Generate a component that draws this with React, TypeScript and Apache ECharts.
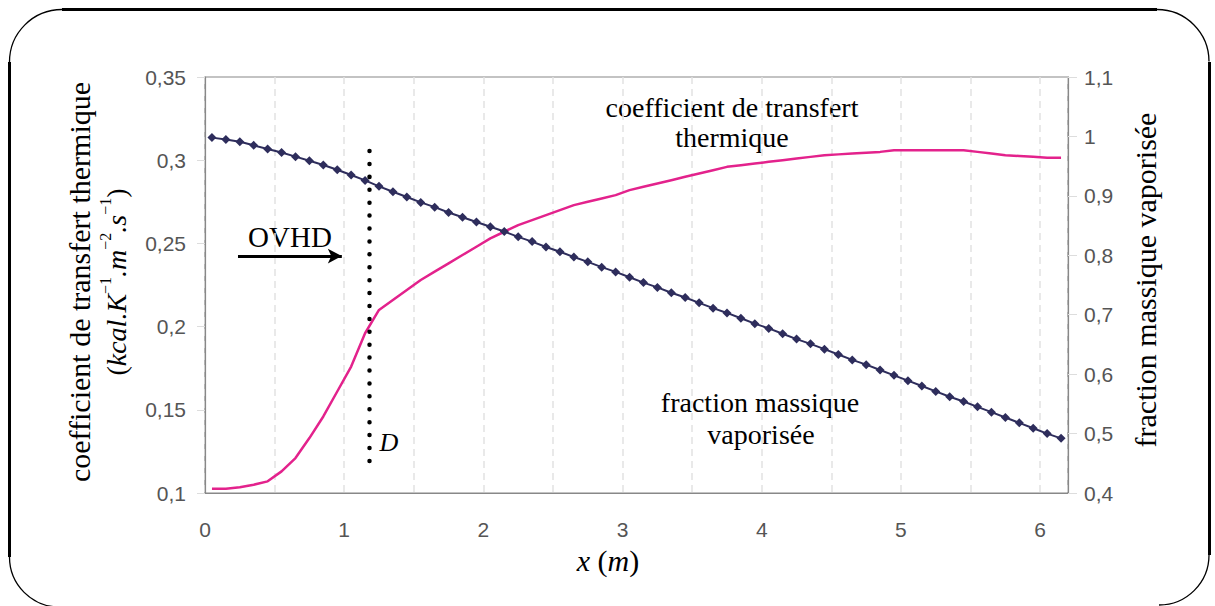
import React, { useEffect, useRef } from "react";
import * as echarts from "echarts";

// positions along the tube (m)
const xPositions = [
  0.05, 0.15, 0.25, 0.35, 0.45, 0.55, 0.65, 0.75, 0.85, 0.95,
  1.05, 1.15, 1.25, 1.35, 1.45, 1.55, 1.65, 1.75, 1.85, 1.95,
  2.05, 2.15, 2.25, 2.35, 2.45, 2.55, 2.65, 2.75, 2.85, 2.95,
  3.05, 3.15, 3.25, 3.35, 3.45, 3.55, 3.65, 3.75, 3.85, 3.95,
  4.05, 4.15, 4.25, 4.35, 4.45, 4.55, 4.65, 4.75, 4.85, 4.95,
  5.05, 5.15, 5.25, 5.35, 5.45, 5.55, 5.65, 5.75, 5.85, 5.95,
  6.05, 6.15,
];

// fraction massique vaporisée (right axis)
const fractionVaporisee = [
  0.998, 0.995, 0.991, 0.985, 0.979, 0.973, 0.966, 0.959, 0.952, 0.944,
  0.935, 0.926, 0.916, 0.907, 0.898, 0.889, 0.881, 0.872, 0.864, 0.856,
  0.848, 0.840, 0.831, 0.823, 0.814, 0.806, 0.797, 0.789, 0.780, 0.772,
  0.763, 0.754, 0.746, 0.737, 0.729, 0.720, 0.711, 0.703, 0.694, 0.685,
  0.677, 0.668, 0.659, 0.651, 0.642, 0.633, 0.624, 0.616, 0.607, 0.598,
  0.589, 0.580, 0.571, 0.562, 0.554, 0.545, 0.536, 0.527, 0.518, 0.509,
  0.500, 0.492,
];

// coefficient de transfert thermique (left axis)
const coefficientTransfert = [
  0.1025, 0.1025, 0.1035, 0.105, 0.107, 0.113, 0.121, 0.133, 0.146, 0.161,
  0.176, 0.196, 0.210, 0.216, 0.222, 0.228, 0.233, 0.238, 0.243, 0.248,
  0.253, 0.257, 0.261, 0.264, 0.267, 0.270, 0.273, 0.275, 0.277, 0.279,
  0.282, 0.284, 0.286, 0.288, 0.290, 0.292, 0.294, 0.296, 0.297, 0.298,
  0.299, 0.300, 0.301, 0.302, 0.303, 0.3035, 0.304, 0.3045, 0.305, 0.306,
  0.306, 0.306, 0.306, 0.306, 0.306, 0.305, 0.304, 0.303, 0.3025, 0.302,
  0.3015, 0.3015,
];

// annotation lines (data coordinates, left axis)
const dLineX = 1.18;
const dLineY = [0.3055, 0.1162];
const arrowX = [0.237, 0.983];
const arrowY = 0.2424;

const leftAxis = { min: 0.1, max: 0.35, interval: 0.05 };
const rightAxis = { min: 0.4, max: 1.1, interval: 0.1 };
const xAxisRange = { min: 0, max: 6.2, interval: 0.5 };

const SERIF = "'Liberation Serif', 'Times New Roman', serif";
const SANS = "'Liberation Sans', Arial, Helvetica, sans-serif";
const NAVY = "#2e2d5c";
const PINK = "#e3228c";

// page frame: thick straight edges (filled) and thin rounded corners (stroked)
const FRAME_BARS = "M62 8 L1157 8 L1157 11 L62 11 Z M8 62 L11 62 L11 557 L8 557 Z M1208 62 L1211 62 L1211 555 L1208 555 Z";
const FRAME_CORNERS =
  "M9.5 62 A52.5 52.5 0 0 1 62 9.5 M1157 9.5 A52 52 0 0 1 1209 61.5 M9.5 557 A50 50 0 0 0 59.5 607 M1209 555 A50 50 0 0 1 1159 605";

echarts.graphic.registerShape("frameBars", echarts.graphic.extendPath(FRAME_BARS, {}));
echarts.graphic.registerShape("frameCorners", echarts.graphic.extendPath(FRAME_CORNERS, {}));

const fmtComma = (v: number) => {
  const s = String(parseFloat(v.toFixed(3)));
  return s.replace(".", ",");
};

export default function App() {
  const ref = useRef<HTMLDivElement>(null);

  useEffect(() => {
    if (!ref.current) return;
    const chart = echarts.init(ref.current, null, { renderer: "svg" });

    const option: any = {
      animation: false,
      backgroundColor: "#fff",
      grid: {
        left: 205,
        right: 147,
        top: 77,
        bottom: 113,
        show: true,
        borderColor: "#888",
        borderWidth: 1.2,
        backgroundColor: "transparent",
      },
      xAxis: {
        type: "value",
        min: xAxisRange.min,
        max: xAxisRange.max,
        interval: xAxisRange.interval,
        axisLine: { show: true, lineStyle: { color: "#888", width: 1.2 } },
        axisTick: { show: false },
        axisLabel: {
          margin: 26,
          color: "#555",
          fontFamily: SANS,
          fontSize: 21,
          formatter: (v: number) =>
            Math.abs(v - Math.round(v)) < 1e-6 ? String(Math.round(v)) : "",
        },
        splitLine: {
          show: true,
          lineStyle: { color: "#e2e2e2", width: 1.5, type: [7, 5] },
        },
      },
      yAxis: [
        {
          type: "value",
          position: "left",
          min: leftAxis.min,
          max: leftAxis.max,
          interval: leftAxis.interval,
          axisLine: { show: true, lineStyle: { color: "#888", width: 1.2 } },
          axisTick: { show: true, length: 8, lineStyle: { color: "#ddd" } },
          axisLabel: {
            margin: 19,
            color: "#555",
            fontFamily: SANS,
            fontSize: 21,
            formatter: fmtComma,
          },
          splitLine: { show: false },
        },
        {
          type: "value",
          position: "right",
          min: rightAxis.min,
          max: rightAxis.max,
          interval: rightAxis.interval,
          axisLine: { show: true, lineStyle: { color: "#888", width: 1.2 } },
          axisTick: { show: true, length: 9, lineStyle: { color: "#ddd" } },
          axisLabel: {
            margin: 16,
            color: "#555",
            fontFamily: SANS,
            fontSize: 21,
            formatter: fmtComma,
          },
          splitLine: { show: false },
        },
      ],
      series: [
        {
          name: "coefficient de transfert thermique",
          type: "line",
          yAxisIndex: 0,
          data: xPositions.map((x, i) => [x, coefficientTransfert[i]]),
          showSymbol: false,
          lineStyle: { color: PINK, width: 2.5 },
          itemStyle: { color: PINK },
          z: 2,
          markLine: {
            silent: true,
            animation: false,
            label: { show: false },
            symbol: ["none", "none"],
            data: [
              [
                {
                  coord: [dLineX, dLineY[0]],
                  symbol: "none",
                  lineStyle: {
                    color: "#000",
                    width: 4.5,
                    type: [0.01, 12.9],
                    cap: "round",
                  },
                },
                { coord: [dLineX, dLineY[1]], symbol: "none" },
              ],
              [
                {
                  coord: [arrowX[0], arrowY],
                  symbol: "none",
                  lineStyle: { color: "#000", width: 3, type: "solid" },
                },
                {
                  coord: [arrowX[1], arrowY],
                  symbol: "arrow",
                  symbolSize: [11, 14],
                },
              ],
            ],
          },
        },
        {
          name: "fraction massique vaporisée",
          type: "line",
          yAxisIndex: 1,
          data: xPositions.map((x, i) => [x, fractionVaporisee[i]]),
          symbol: "diamond",
          symbolSize: 9,
          showSymbol: true,
          lineStyle: { color: NAVY, width: 2 },
          itemStyle: { color: NAVY },
          z: 3,
        },
      ],
      graphic: [
        { type: "frameBars", x: 0, y: 0, scaleX: 1, scaleY: 1, z: 100, style: { fill: "#000", stroke: null } },
        { type: "frameCorners", x: 0, y: 0, scaleX: 1, scaleY: 1, z: 100, style: { fill: null, stroke: "#000", lineWidth: 1.3 } },
        // annotations
        {
          type: "text",
          x: 290,
          y: 237,
          style: { text: "OVHD", fontFamily: SERIF, fontSize: 29, fill: "#000", align: "center", verticalAlign: "middle" },
        },
        {
          type: "text",
          x: 389,
          y: 442,
          style: { text: "D", fontFamily: SERIF, fontStyle: "italic", fontSize: 26, fill: "#000", align: "center", verticalAlign: "middle" },
        },
        {
          type: "text",
          x: 732,
          y: 107,
          style: { text: "coefficient de transfert", fontFamily: SERIF, fontSize: 28, fill: "#000", align: "center", verticalAlign: "middle" },
        },
        {
          type: "text",
          x: 732,
          y: 137,
          style: { text: "thermique", fontFamily: SERIF, fontSize: 28, fill: "#000", align: "center", verticalAlign: "middle" },
        },
        {
          type: "text",
          x: 760,
          y: 402,
          style: { text: "fraction massique", fontFamily: SERIF, fontSize: 28, fill: "#000", align: "center", verticalAlign: "middle" },
        },
        {
          type: "text",
          x: 761,
          y: 434,
          style: { text: "vaporisée", fontFamily: SERIF, fontSize: 28, fill: "#000", align: "center", verticalAlign: "middle" },
        },
        // axis names
        {
          type: "text",
          x: 608,
          y: 560,
          style: {
            text: "{i|x}{r| (}{i|m}{r|)}",
            fill: "#000",
            align: "center",
            verticalAlign: "middle",
            rich: {
              i: { fontFamily: SERIF, fontStyle: "italic", fontSize: 30, color: "#000" },
              r: { fontFamily: SERIF, fontSize: 30, color: "#000" },
            },
          },
        },
        {
          type: "text",
          x: 79,
          y: 282,
          rotation: Math.PI / 2,
          style: {
            text: "coefficient de transfert thermique",
            fontFamily: SERIF,
            fontSize: 30,
            fill: "#000",
            align: "center",
            verticalAlign: "middle",
          },
        },
        {
          type: "text",
          x: 116,
          y: 282,
          rotation: Math.PI / 2,
          style: {
            text: "{r|(}{i|kcal.K}{s|−1}{i|.m}{s|−2}{i|.s}{s|−1}{r|)}",
            fill: "#000",
            align: "center",
            verticalAlign: "middle",
            rich: {
              i: { fontFamily: SERIF, fontStyle: "italic", fontSize: 28, lineHeight: 38, color: "#000" },
              r: { fontFamily: SERIF, fontSize: 28, lineHeight: 38, color: "#000" },
              s: { fontFamily: SERIF, fontSize: 16, lineHeight: 38, verticalAlign: "top", color: "#000" },
            },
          },
        },
        {
          type: "text",
          x: 1145,
          y: 280,
          rotation: Math.PI / 2,
          style: {
            text: "fraction massique vaporisée",
            fontFamily: SERIF,
            fontSize: 30,
            fill: "#000",
            align: "center",
            verticalAlign: "middle",
          },
        },
      ],
    };

    chart.setOption(option);
    return () => chart.dispose();
  }, []);

  return (
    <div
      ref={ref}
      style={{ position: "absolute", left: 0, top: 0, width: 1215, height: 606, background: "#fff" }}
    />
  );
}
